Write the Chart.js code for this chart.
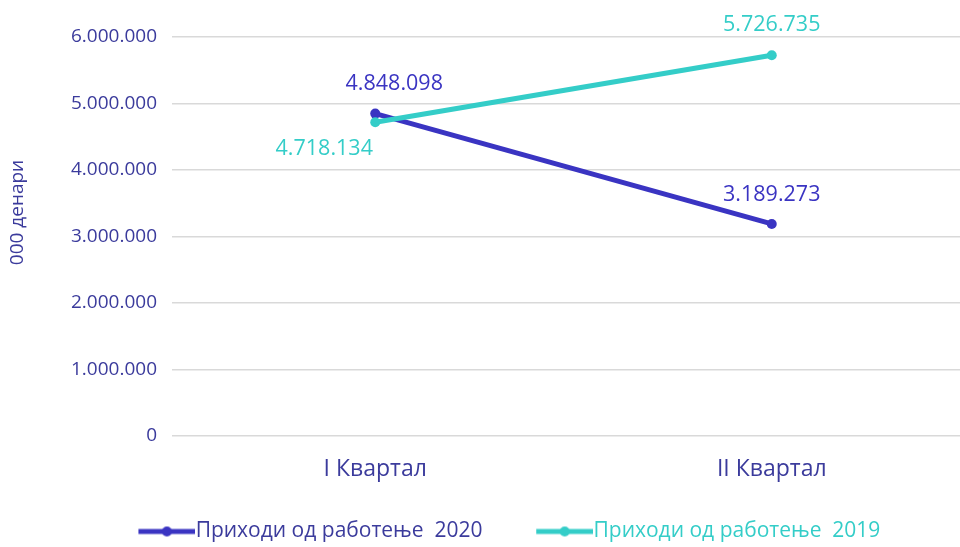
<!DOCTYPE html>
<html>
<head>
<meta charset="utf-8">
<script src="https://cdn.jsdelivr.net/npm/chart.js@4/dist/chart.umd.min.js"></script>
<style>
html, body { margin: 0; padding: 0; background: #fff; overflow: hidden; }
#wrap { width: 975px; height: 547px; position: relative; }
</style>
</head>
<body>
<div id="wrap"><canvas id="chartMain"></canvas></div>
<script>
// data
const categories = ['I Квартал', 'II Квартал'];
const values2020 = [4848098, 3189273];
const values2019 = [4718134, 5726735];
const seriesNames = ['Приходи од работење  2020', 'Приходи од работење  2019'];
const yTicks = [0, 1000000, 2000000, 3000000, 4000000, 5000000, 6000000];
const yTitle = '000 денари';

const FONT = "'Open Sans', 'Noto Sans', sans-serif";
const navy = '#3b3b9c';
const blue = '#3a34c2';
const teal = '#34cdc8';

// thousands with dots: 4848098 -> 4.848.098
function fmt(v) {
    return String(Math.round(v)).replace(/\B(?=(\d{3})+(?!\d))/g, '.');
}

// legend marker: line with a dot, placed so the line ends where the text starts
const legendFont = 21;
const lineLen = 57;
const gapBefore = 47;
const boxW = lineLen - legendFont / 2 + gapBefore;
function legendMarker(color) {
    const c = document.createElement('canvas');
    c.width = boxW + legendFont;
    c.height = 12;
    const g = c.getContext('2d');
    g.strokeStyle = color;
    g.lineWidth = 5;
    g.beginPath();
    g.moveTo(c.width - lineLen, 6);
    g.lineTo(c.width, 6);
    g.stroke();
    g.fillStyle = color;
    g.beginPath();
    g.arc(c.width - lineLen / 2, 6, 5, 0, Math.PI * 2);
    g.fill();
    return c;
}
const markers = [legendMarker(blue), legendMarker(teal)];

// where each value label sits relative to its point (px)
const labelShift = [[[19, -30], [0, -29]], [[-51, 27], [0, -30]]];
const labelColors = [blue, teal];

const valueLabels = {
    id: 'valueLabels',
    afterDatasetsDraw(chart) {
        const ctx = chart.ctx;
        ctx.save();
        ctx.font = '21.5px ' + FONT;
        ctx.textAlign = 'center';
        ctx.textBaseline = 'middle';
        chart.data.datasets.forEach((ds, i) => {
            const meta = chart.getDatasetMeta(i);
            meta.data.forEach((pt, j) => {
                ctx.fillStyle = labelColors[i];
                ctx.fillText(fmt(ds.data[j]), pt.x + labelShift[i][j][0], pt.y + labelShift[i][j][1]);
            });
        });
        ctx.restore();
    }
};

// y axis title, sits a bit above the middle of the plot like the original
const axisTitle = {
    id: 'axisTitle',
    afterDraw(chart) {
        const ctx = chart.ctx;
        const a = chart.chartArea;
        ctx.save();
        ctx.translate(18, (a.top + a.bottom) / 2 - 24);
        ctx.rotate(-Math.PI / 2);
        ctx.font = '19px ' + FONT;
        ctx.fillStyle = navy;
        ctx.textAlign = 'center';
        ctx.textBaseline = 'middle';
        ctx.fillText(yTitle, 0, 0);
        ctx.restore();
    }
};

const ctx = document.getElementById('chartMain').getContext('2d');
window.chart = new Chart(ctx, {
    type: 'line',
    data: {
        labels: categories,
        datasets: [
            {
                label: seriesNames[0],
                data: values2020,
                borderColor: blue,
                backgroundColor: blue,
                borderWidth: 5,
                pointRadius: 5,
                pointBorderWidth: 0,
                pointBackgroundColor: blue,
                tension: 0,
                order: 1,
            },
            {
                label: seriesNames[1],
                data: values2019,
                borderColor: teal,
                backgroundColor: teal,
                borderWidth: 5,
                pointRadius: 5,
                pointBorderWidth: 0,
                pointBackgroundColor: teal,
                tension: 0,
                order: 0,
            },
        ]
    },
    options: {
        responsive: true,
        maintainAspectRatio: false,
        animation: false,
        layout: { padding: { top: 37, right: 3, left: 0, bottom: 0 } },
        plugins: {
            tooltip: { enabled: false },
            legend: {
                position: 'bottom',
                maxHeight: 33,
                labels: {
                    usePointStyle: true,
                    pointStyleWidth: boxW,
                    padding: 7,
                    font: { family: FONT, size: legendFont },
                    sort: (a, b) => a.datasetIndex - b.datasetIndex,
                    generateLabels(chart) {
                        return chart.data.datasets.map((ds, i) => ({
                            text: ds.label,
                            datasetIndex: i,
                            pointStyle: markers[i],
                            fontColor: i === 0 ? navy : teal,
                            fillStyle: ds.borderColor,
                            strokeStyle: ds.borderColor,
                            lineWidth: 0,
                            hidden: false,
                        }));
                    }
                }
            }
        },
        scales: {
            x: {
                offset: true,
                grid: { display: false, drawTicks: false },
                border: { display: false },
                ticks: { color: navy, padding: 20, font: { family: FONT, size: 23 } },
                afterFit(scale) { scale.height = 78; }
            },
            y: {
                min: yTicks[0],
                max: yTicks[yTicks.length - 1],
                afterBuildTicks(scale) { scale.ticks = yTicks.map(v => ({ value: v })); },
                grid: { color: '#d9d9d9', lineWidth: 1.5, tickLength: 5 },
                border: { display: false },
                ticks: {
                    color: navy,
                    padding: 15,
                    font: { family: FONT, size: 19 },
                    callback: v => fmt(v)
                },
                afterFit(scale) { scale.width = 177; }
            }
        }
    },
    plugins: [valueLabels, axisTitle]
});
</script>
</body>
</html>
